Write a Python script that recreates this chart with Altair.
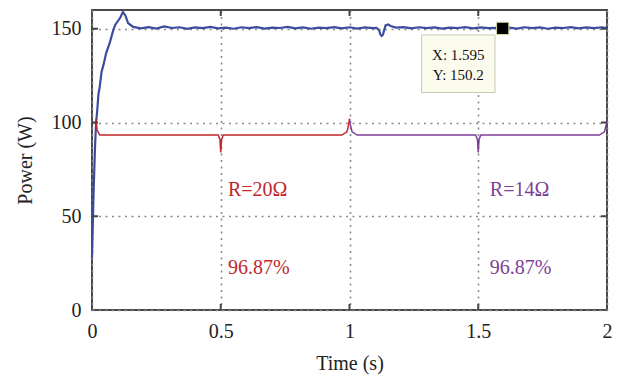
import altair as alt
import pandas as pd

# Blue power curve (time s, power W)
t_power = [0.0, 0.003, 0.006, 0.009, 0.012, 0.016, 0.02, 0.025, 0.03, 0.037, 0.045, 0.055,
           0.07, 0.08, 0.09, 0.1, 0.11, 0.12, 0.13, 0.14, 0.15,
           0.16, 0.19, 0.22, 0.25, 0.28, 0.31, 0.34, 0.37, 0.40, 0.43, 0.46, 0.49,
           0.52, 0.55, 0.58, 0.61, 0.64, 0.67, 0.70, 0.73, 0.76, 0.79, 0.82, 0.85,
           0.88, 0.91, 0.94, 0.97, 1.00, 1.03, 1.06, 1.09, 1.105, 1.115, 1.12, 1.125,
           1.13, 1.135, 1.14, 1.15, 1.16, 1.18, 1.21, 1.24, 1.27, 1.30, 1.33, 1.36,
           1.39, 1.42, 1.45, 1.48, 1.51, 1.54, 1.57, 1.595, 1.62, 1.65, 1.68, 1.71,
           1.74, 1.77, 1.80, 1.83, 1.86, 1.89, 1.92, 1.95, 1.98, 2.0]
p_power = [28, 45, 62, 75, 88, 100, 106, 115, 119, 127, 131, 137,
           143, 148, 152, 154, 156, 159, 157, 153, 152,
           151.0, 150.2, 150.9, 150.1, 151.2, 150.4, 150.8, 149.9, 150.7, 150.3, 151.0, 150.2,
           150.6, 150.0, 150.8, 150.3, 150.9, 150.1, 150.6, 150.4, 151.0, 150.2, 150.7, 150.0,
           150.6, 150.3, 150.9, 150.2, 150.8, 150.1, 150.7, 150.3, 150.5, 149.2, 147.0, 146.2,
           146.8, 149.5, 151.8, 152.3, 151.5, 150.6, 150.9, 150.2, 150.8, 150.3, 150.7, 150.1,
           150.6, 150.4, 150.9, 150.2, 150.7, 150.3, 150.5, 150.2, 150.6, 150.1, 150.8, 150.3,
           150.7, 150.0, 150.6, 150.4, 150.9, 150.2, 150.7, 150.3, 150.8, 150.4]

# Braces
t_red = [0.015, 0.02, 0.03, 0.49, 0.497, 0.5, 0.503, 0.51, 0.97, 0.99, 0.997, 1.0]
p_red = [102, 96, 93.3, 93.3, 91, 84, 91, 93.3, 93.3, 95, 99, 102]
t_purple = [1.0, 1.003, 1.01, 1.03, 1.49, 1.497, 1.5, 1.503, 1.51, 1.97, 1.99, 1.997, 2.0]
p_purple = [102, 99, 95, 93.3, 93.3, 91, 84, 91, 93.3, 93.3, 95, 99, 102]

# Annotations
ann_text = ["R=20\u03a9", "96.87%", "R=14\u03a9", "96.87%"]
ann_t = [0.528, 0.528, 1.545, 1.545]
ann_p = [64, 22.4, 64, 22.4]
ann_color = ["#c1272d", "#c1272d", "#7d3f98", "#7d3f98"]

# Data tip
tip_x, tip_y = 1.595, 150.2
tip_lines = ["X: 1.595", "Y: 150.2"]
tip_box = {"t1": 1.28, "t2": 1.565, "p1": 116, "p2": 146.7}

x_ticks = [0, 0.5, 1, 1.5, 2]
y_ticks = [0, 50, 100, 150]

FONT = "Liberation Serif"
xs = alt.Scale(domain=[0, 2], nice=False)
ys = alt.Scale(domain=[0, 160], nice=False)

power_df = pd.DataFrame({"t": t_power, "p": p_power})
base = alt.Chart(power_df).mark_line(color="#3b4c9e", strokeWidth=2.2).encode(
    x=alt.X("t:Q", scale=xs, title="Time (s)",
            axis=alt.Axis(values=x_ticks, grid=True, gridDash=[2, 4.5], gridColor="#8a8a8a",
                          gridWidth=1.6, domain=False, ticks=False, labelFont=FONT,
                          labelFontSize=20, labelColor="#222", labelPadding=11,
                          labelExpr="datum.value + ''",
                          titleFont=FONT, titleFontSize=20, titleFontWeight="normal",
                          titleColor="#222", titlePadding=12, labelFlush=False)),
    y=alt.Y("p:Q", scale=ys, title="Power (W)",
            axis=alt.Axis(values=y_ticks, grid=True, gridDash=[2, 4.5], gridColor="#8a8a8a",
                          gridWidth=1.6, domain=False, ticks=False, labelFont=FONT,
                          labelFontSize=20, labelColor="#222", labelPadding=11,
                          titleFont=FONT, titleFontSize=20, titleFontWeight="normal",
                          titleColor="#222", titlePadding=16)),
)

red = alt.Chart(pd.DataFrame({"t": t_red, "p": p_red})).mark_line(
    color="#c1272d", strokeWidth=1.5).encode(x=alt.X("t:Q", scale=xs), y=alt.Y("p:Q", scale=ys))
purple = alt.Chart(pd.DataFrame({"t": t_purple, "p": p_purple})).mark_line(
    color="#7d3f98", strokeWidth=1.5).encode(x=alt.X("t:Q", scale=xs), y=alt.Y("p:Q", scale=ys))

ann_df = pd.DataFrame({"text": ann_text, "t": ann_t, "p": ann_p, "c": ann_color})
ann = alt.Chart(ann_df).mark_text(font=FONT, fontSize=20, align="left", baseline="middle").encode(
    x=alt.X("t:Q", scale=xs), y=alt.Y("p:Q", scale=ys), text="text:N",
    color=alt.Color("c:N", scale=None))

# inner ticks
xt_df = pd.DataFrame({"t": x_ticks[1:-1]})
xt_bottom = alt.Chart(xt_df).mark_rule(color="#444", strokeWidth=2).encode(
    x=alt.X("t:Q", scale=xs), y=alt.value(300), y2=alt.value(294))
xt_top = alt.Chart(xt_df).mark_rule(color="#444", strokeWidth=2).encode(
    x=alt.X("t:Q", scale=xs), y=alt.value(0), y2=alt.value(6))
yt_df = pd.DataFrame({"p": y_ticks[1:]})
yt_left = alt.Chart(yt_df).mark_rule(color="#444", strokeWidth=2).encode(
    y=alt.Y("p:Q", scale=ys), x=alt.value(0), x2=alt.value(6))
yt_right = alt.Chart(yt_df).mark_rule(color="#444", strokeWidth=2).encode(
    y=alt.Y("p:Q", scale=ys), x=alt.value(515), x2=alt.value(509))

box = alt.Chart(pd.DataFrame([tip_box])).mark_rect(
    fill="#fbfbee", stroke="#c9c9b5", strokeWidth=1).encode(
    x=alt.X("t1:Q", scale=xs), x2="t2:Q", y=alt.Y("p1:Q", scale=ys), y2="p2:Q")
tip_df = pd.DataFrame({"text": tip_lines, "t": [1.4225, 1.4225], "p": [136, 125.3]})
tip_text = alt.Chart(tip_df).mark_text(font=FONT, fontSize=15, color="#111",
                                       align="center", baseline="middle").encode(
    x=alt.X("t:Q", scale=xs), y=alt.Y("p:Q", scale=ys), text="text:N")
marker = alt.Chart(pd.DataFrame({"t": [tip_x], "p": [tip_y]})).mark_square(
    size=150, color="#000", opacity=1, stroke="#d8d8a0", strokeWidth=1).encode(
    x=alt.X("t:Q", scale=xs), y=alt.Y("p:Q", scale=ys))

chart = alt.layer(base, red, purple, ann, xt_bottom, xt_top, yt_left, yt_right,
                  box, tip_text, marker).properties(
    width=515, height=300, autosize=alt.AutoSizeParams(type="none"),
    padding={"left": 84, "top": 2, "right": 10, "bottom": 75},
    background="white",
).configure_view(stroke="#4a4a4a", strokeWidth=2)

chart.save("out.html", embed_options={"renderer": "svg", "actions": False})
